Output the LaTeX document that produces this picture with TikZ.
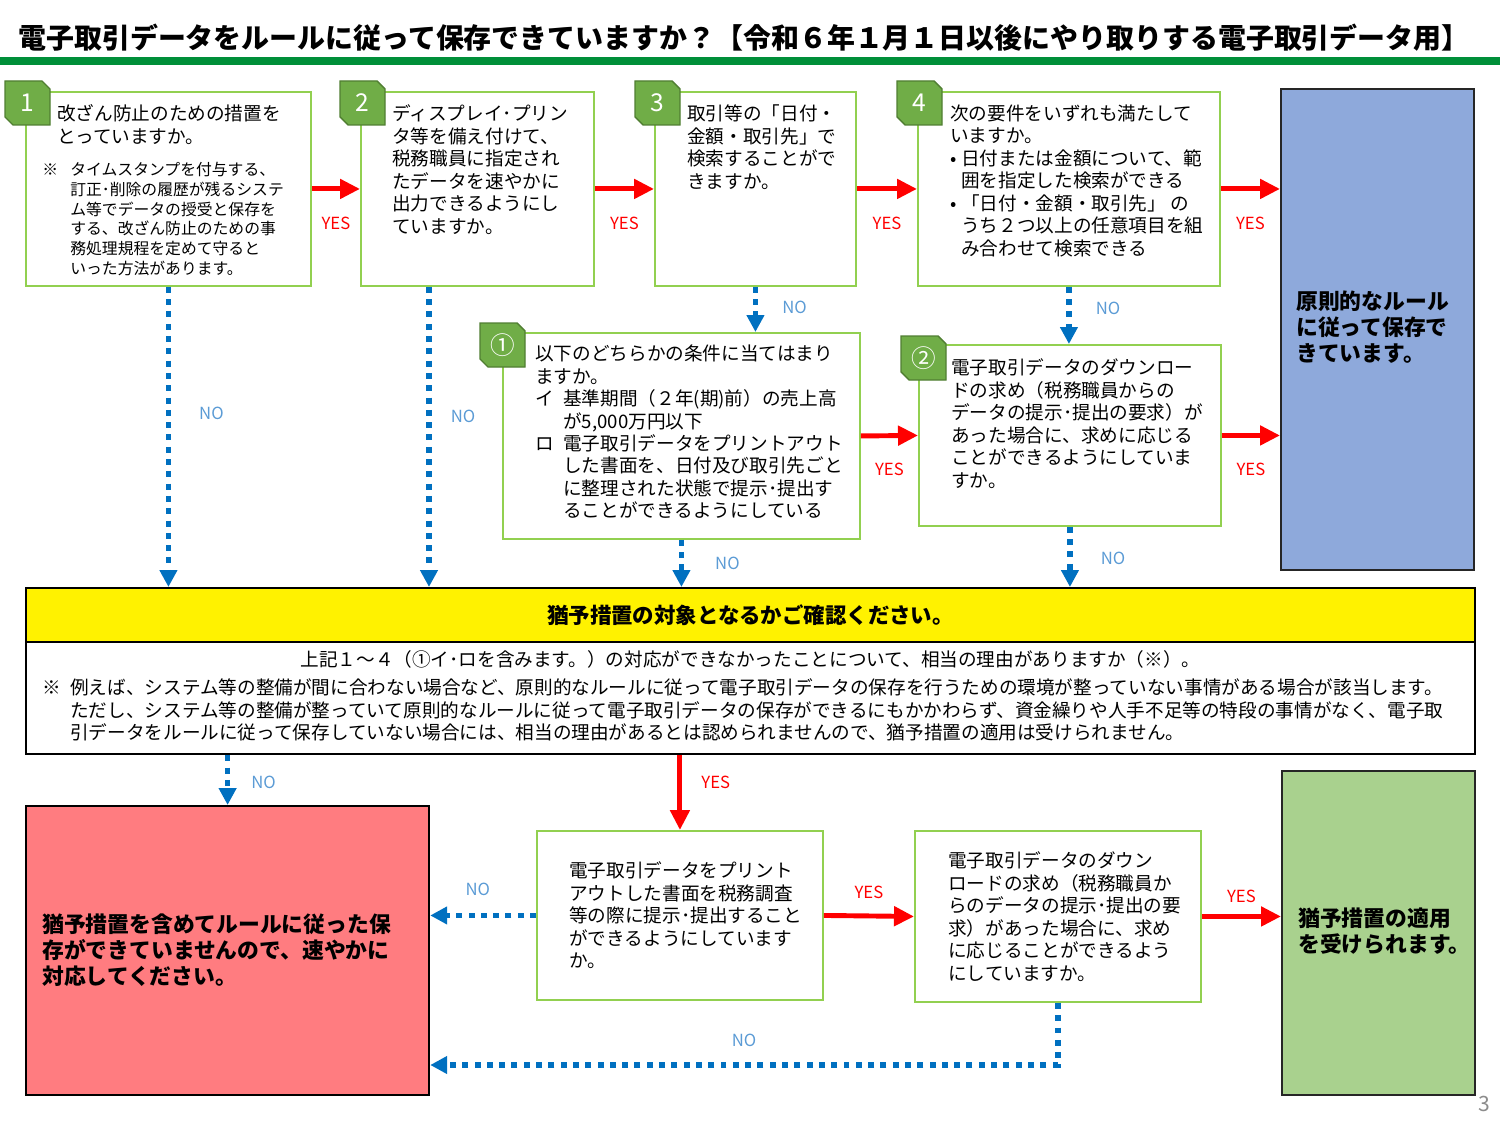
\documentclass[tikz,border=0pt]{standalone}
\usepackage{fontspec}
\setmainfont{Noto Sans CJK JP}
\usetikzlibrary{calc,arrows.meta,positioning}

\definecolor{barGreen}{RGB}{0,143,57}
\definecolor{frameGreen}{RGB}{146,208,80}
\definecolor{tagGreen}{RGB}{112,173,71}
\definecolor{tagEdge}{RGB}{80,126,50}
\definecolor{noBlue}{RGB}{0,112,192}
\definecolor{noText}{RGB}{91,155,213}
\definecolor{okBlue}{RGB}{142,169,219}
\definecolor{ngRed}{RGB}{255,124,128}
\definecolor{okGreen}{RGB}{169,209,142}

\newcommand{\mk}[1]{\makebox[0.56cm][l]{#1}}
\newcommand{\ind}{\hspace*{0.56cm}}

\begin{document}
\begin{tikzpicture}[
    x=0.02cm, y=-0.02cm,
    node distance=0.2cm,
    qbox/.style={rectangle, draw=frameGreen, line width=1.1pt, fill=white, anchor=north west, inner sep=0pt},
    endbox/.style={rectangle, draw=black!85, line width=1.3pt, anchor=north west, inner sep=0pt},
    qtext/.style={inner sep=0pt, font=\fontsize{10.6}{12.8}\selectfont, align=left},
    notetext/.style={inner sep=0pt, font=\fontsize{9}{11.2}\selectfont, align=left},
    bigtext/.style={inner sep=0pt, font=\bfseries\fontsize{12.4}{14.8}\selectfont, align=left},
    tagshape/.style={fill=tagGreen, draw=tagEdge, line width=0.8pt},
    tagnum/.style={text=white, font=\fontsize{14}{14}\selectfont, inner sep=0pt},
    yesarrow/.style={-{Triangle[length=0.4cm, width=0.38cm]}, red, line width=2.8pt},
    noarrow/.style={-{Triangle[length=0.34cm, width=0.34cm]}, noBlue, line width=3.2pt, dash pattern=on 3.4pt off 3.6pt},
    yeslabel/.style={text=red, font=\fontsize{9.5}{9.5}\selectfont, inner sep=0pt},
    nolabel/.style={text=noText, font=\fontsize{9.5}{9.5}\selectfont, inner sep=0pt}
]
    \useasboundingbox (0,0) rectangle (1500,1125);

    % title
    \node[anchor=west, inner sep=0pt, font=\bfseries\fontsize{15.9}{15.9}\selectfont] (title) at (18,38)
        {電子取引データをルールに従って保存できていますか？【令和６年１月１日以後にやり取りする電子取引データ用】};
    \fill[barGreen] (0,57) rectangle (1500,65);

    % question boxes
    \node[qbox, minimum width=5.70cm, minimum height=3.88cm] (q1) at (25,91) {};
    \node[qbox, minimum width=4.66cm, minimum height=3.88cm] (q2) at (360,91) {};
    \node[qbox, minimum width=4.02cm, minimum height=3.88cm] (q3) at (654,91) {};
    \node[qbox, minimum width=6.04cm, minimum height=3.88cm] (q4) at (917,91) {};
    \node[qbox, minimum width=7.14cm, minimum height=4.12cm] (c1) at (502,332) {};
    \node[qbox, minimum width=6.04cm, minimum height=3.62cm] (c2) at (918,344) {};
    \node[qbox, minimum width=5.72cm, minimum height=3.38cm] (pr) at (536,830) {};
    \node[qbox, minimum width=5.72cm, minimum height=3.42cm] (dl) at (914,830) {};

    % result boxes
    \node[endbox, fill=okBlue, minimum width=3.86cm, minimum height=9.62cm] (okbox) at (1280,88) {};
    \node[endbox, fill=ngRed, draw=black, minimum width=8.06cm, minimum height=5.78cm] (ngbox) at (25,805) {};
    \node[endbox, fill=okGreen, minimum width=3.86cm, minimum height=6.48cm] (grbox) at (1281,770) {};
    \node[endbox, fill=yellow, draw=black, minimum width=28.98cm, minimum height=1.08cm,
          font=\bfseries\fontsize{12.2}{12.2}\selectfont] (check) at (25,587) {猶予措置の対象となるかご確認ください。};
    \node[endbox, fill=white, draw=black, minimum width=28.98cm, minimum height=2.24cm] (reason) at (25,641) {};

    % texts
    \node[qtext, below right=0.27cm and 0.64cm of q1.north west] (q1t) {改ざん防止のための措置を\\とっていますか。};
    \node[notetext, below right=1.42cm and 0.34cm of q1.north west] (q1n) {\mk{※}タイムスタンプを付与する、\\
        \ind 訂正･削除の履歴が残るシステ\\
        \ind ム等でデータの授受と保存を\\
        \ind する、改ざん防止のための事\\
        \ind 務処理規程を定めて守ると\\
        \ind いった方法があります。};
    \node[qtext, below right=0.27cm and 0.64cm of q2.north west] (q2t) {ディスプレイ･プリン\\タ等を備え付けて、\\税務職員に指定され\\たデータを速やかに\\出力できるようにし\\ていますか。};
    \node[qtext, below right=0.27cm and 0.66cm of q3.north west] (q3t) {取引等の「日付・\\金額・取引先」で\\検索することがで\\きますか。};
    \node[qtext, below right=0.27cm and 0.66cm of q4.north west] (q4t) {次の要件をいずれも満たして\\いますか。\\
        \makebox[0.22cm][l]{•}日付または金額について、範\\
        \hspace*{0.22cm}囲を指定した検索ができる\\
        \makebox[0.22cm][l]{•}「日付・金額・取引先」 の\\
        \hspace*{0.22cm}うち２つ以上の任意項目を組\\
        \hspace*{0.22cm}み合わせて検索できる};
    \node[qtext, below right=0.25cm and 0.66cm of c1.north west] (c1t) {以下のどちらかの条件に当てはまり\\ますか。\\
        \mk{イ}基準期間（２年(期)前）の売上高\\
        \ind が5,000万円以下\\
        \mk{ロ}電子取引データをプリントアウト\\
        \ind した書面を、日付及び取引先ごと\\
        \ind に整理された状態で提示･提出す\\
        \ind ることができるようにしている};
    \node[qtext, below right=0.29cm and 0.66cm of c2.north west] (c2t) {電子取引データのダウンロー\\ドの求め（税務職員からの\\データの提示･提出の要求）が\\あった場合に、求めに応じる\\ことができるようにしていま\\すか。};
    \node[qtext, below right=0.63cm and 0.66cm of pr.north west] (prt) {電子取引データをプリント\\アウトした書面を税務調査\\等の際に提示･提出すること\\ができるようにしています\\か。};
    \node[qtext, below right=0.43cm and 0.68cm of dl.north west] (dlt) {電子取引データのダウン\\ロードの求め（税務職員か\\らのデータの提示･提出の要\\求）があった場合に、求め\\に応じることができるよう\\にしていますか。};
    \node[bigtext, below right=4.06cm and 0.32cm of okbox.north west] (okt) {原則的なルール\\に従って保存で\\きています。};
    \node[bigtext, below right=2.16cm and 0.34cm of ngbox.north west] (ngt) {猶予措置を含めてルールに従った保\\存ができていませんので、速やかに\\対応してください。};
    \node[bigtext, below right=2.76cm and 0.34cm of grbox.north west] (grt) {猶予措置の適用\\を受けられます。};
    \node[qtext, below=0.19cm of reason.north] (rs1) {上記１～４（①イ･ロを含みます。）の対応ができなかったことについて、相当の理由がありますか（※）。};
    \node[qtext, below right=0.75cm and 0.34cm of reason.north west] (rs2) {\mk{※}例えば、システム等の整備が間に合わない場合など、原則的なルールに従って電子取引データの保存を行うための環境が整っていない事情がある場合が該当します。\\
        \ind ただし、システム等の整備が整っていて原則的なルールに従って電子取引データの保存ができるにもかかわらず、資金繰りや人手不足等の特段の事情がなく、電子取\\
        \ind 引データをルールに従って保存していない場合には、相当の理由があるとは認められませんので、猶予措置の適用は受けられません。};

    % number tags
    \foreach \nm/\tx/\ty/\lab in {t1/5/81/1, t2/340/81/2, t3/635/81/3, t4/897/81/4, tc1/480/323/①, tc2/901/336/②}
    {
        \draw[tagshape] (\tx,\ty) -- (\tx+37,\ty) -- (\tx+45,\ty+8) -- (\tx+45,\ty+44) -- (\tx+8,\ty+44) -- (\tx,\ty+36) -- cycle;
        \node[tagnum] (\nm) at (\tx+22.5,\ty+22) {\lab};
    }

    % YES connectors
    \draw[yesarrow] (q1.east) -- node[yeslabel, below=0.52cm] (y1) {YES} (q2.west);
    \draw[yesarrow] (q2.east) -- node[yeslabel, below=0.52cm] (y2) {YES} (q3.west);
    \draw[yesarrow] (q3.east) -- node[yeslabel, below=0.52cm] (y3) {YES} (q4.west);
    \draw[yesarrow] (q4.east) -- node[yeslabel, below=0.52cm] (y4) {YES} (q4.east -| okbox.west);
    \draw[yesarrow] (c1.east) -- node[yeslabel, below=0.5cm] (y5) {YES} (c2.west);
    \draw[yesarrow] (c2.east) -- node[yeslabel, below=0.5cm] (y6) {YES} (c2.east -| okbox.west);
    \draw[yesarrow] (pr.north |- reason.south) -- node[yeslabel, pos=0.36, right=0.38cm] (y7) {YES} (pr.north);
    \draw[yesarrow] (pr.east) -- node[yeslabel, above=0.3cm] (y8) {YES} (dl.west);
    \draw[yesarrow] (dl.east) -- node[yeslabel, above=0.22cm] (y9) {YES} (dl.east -| grbox.west);

    % NO connectors
    \coordinate (q2foot) at ([xshift=1.38cm]q2.south west);
    \coordinate (dlturn) at (dl.south |- 0,1065);
    \draw[noarrow] (q1.south) -- node[nolabel, pos=0.42, right=0.56cm] (n1) {NO} (q1.south |- check.north);
    \draw[noarrow] (q2foot) -- node[nolabel, pos=0.43, right=0.38cm] (n2) {NO} (q2foot |- check.north);
    \draw[noarrow] (q3.south) -- node[nolabel, pos=0.45, right=0.48cm] (n3) {NO} (q3.south |- c1.north);
    \draw[noarrow] (q4.south) -- node[nolabel, pos=0.37, right=0.48cm] (n4) {NO} (q4.south |- c2.north);
    \draw[noarrow] (c1.south) -- node[nolabel, pos=0.49, right=0.62cm] (n5) {NO} (c1.south |- check.north);
    \draw[noarrow] (c2.south) -- node[nolabel, pos=0.53, right=0.56cm] (n6) {NO} (c2.south |- check.north);
    \draw[noarrow] (ngbox.north |- reason.south) -- node[nolabel, pos=0.54, right=0.42cm] (n7) {NO} (ngbox.north);
    \draw[noarrow] (pr.west) -- node[nolabel, pos=0.55, above=0.34cm] (n8) {NO} (pr.west -| ngbox.east);
    \draw[noarrow] (dl.south) -- (dlturn) -- node[nolabel, above=0.3cm] (n9) {NO} (dlturn -| ngbox.east);

    \node[text=black!45, font=\fontsize{12}{12}\selectfont] (pagenum) at (1484,1104) {3};
\end{tikzpicture}
\end{document}
